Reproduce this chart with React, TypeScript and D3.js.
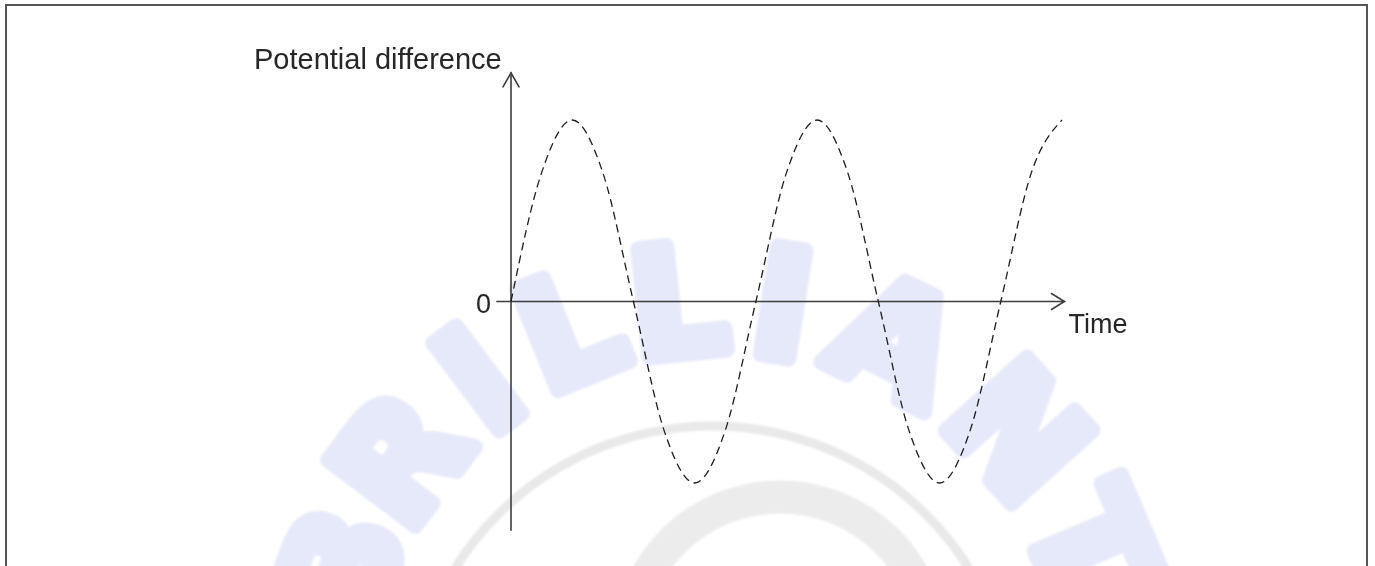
import React from "react";
import * as d3 from "d3";

// Sine-wave potential difference, sampled every eighth of a period.
// Time is measured in quarter periods.
const timeQuarters = [
  0, 0.5, 1, 1.5, 2, 2.5, 3, 3.5, 4, 4.5, 5, 5.5, 6, 6.5, 7, 7.5, 8, 8.5, 9,
];
const potential = [
  0, 0.71, 1, 0.71, 0, -0.71, -1, -0.71, 0, 0.71, 1, 0.71, 0, -0.71, -1, -0.71,
  0, 0.71, 1,
];

const yAxisTitle = "Potential difference";
const xAxisTitle = "Time";
const zeroLabel = "0";

// Background emblem: lettering on an arc plus two rings.
const emblemLetters = ["B", "R", "I", "L", "L", "I", "A", "N", "T"];
const emblemAngles = [-161, -143, -127, -112, -96, -81, -64, -42, -23];

const W = 1375;
const H = 566;
const FONT = "'Liberation Sans', Arial, Helvetica, sans-serif";

export default function App() {
  const x = d3.scaleLinear().domain([0, 9]).range([511, 1062]);
  const y = d3.scaleLinear().domain([-1, 1]).range([483, 120]);

  const pts = timeQuarters.map((t, i) => [t, potential[i]] as [number, number]);
  const line = d3
    .line<[number, number]>()
    .x((d) => x(d[0]))
    .y((d) => y(d[1]))
    .curve(d3.curveMonotoneX);

  const x0 = x(0);
  const y0 = y(0);
  const xStart = x(-0.23);
  const xTip = x(9.04);
  const yTop = y(1.26);
  const yBottom = y(-1.26);

  const axisColor = "#3d3d3d";
  const textColor = "#262626";

  // emblem geometry
  const ec = { x: 720, y: 700, r: 400 };

  return (
    <svg
      width={W}
      height={H}
      style={{ position: "absolute", left: 0, top: 0, display: "block", background: "#fff" }}
    >
      <defs>
        <filter id="soft" x="-10%" y="-10%" width="120%" height="120%">
          <feGaussianBlur stdDeviation="1.2" />
        </filter>
      </defs>

      {/* emblem */}
      <g filter="url(#soft)">
        <circle cx={712} cy={729} r={303} fill="none" stroke="#e9e9e9" strokeWidth={9} />
        <circle cx={780} cy={649} r={152} fill="none" stroke="#ececec" strokeWidth={33} />
        {emblemLetters.map((ch, i) => {
          const a = (emblemAngles[i] * Math.PI) / 180;
          const px = ec.x + ec.r * Math.cos(a);
          const py = ec.y + ec.r * Math.sin(a);
          return (
            <text
              key={i}
              transform={`translate(${px},${py}) rotate(${emblemAngles[i] + 90})`}
              textAnchor="middle"
              dominantBaseline="central"
              fontFamily="'DejaVu Sans', sans-serif"
              fontWeight="bold"
              fontSize={150}
              fill="#e6e9fa"
              stroke="#e6e9fa"
              strokeWidth={16}
              strokeLinejoin="round"
            >
              {ch}
            </text>
          );
        })}
      </g>

      {/* frame */}
      <rect x={6} y={5} width={1361} height={620} fill="none" stroke="#555" strokeWidth={2} />

      {/* axes */}
      <g stroke={axisColor} strokeWidth={1.6} fill="none" strokeLinecap="round">
        <line x1={x0} y1={yBottom} x2={x0} y2={yTop} />
        <polyline points={`${x0 - 8},${yTop + 14} ${x0},${yTop} ${x0 + 8},${yTop + 14}`} />
        <line x1={xStart} y1={y0} x2={xTip} y2={y0} />
        <polyline points={`${xTip - 13},${y0 - 8} ${xTip},${y0} ${xTip - 13},${y0 + 8}`} />
      </g>

      {/* waveform */}
      <path
        d={line(pts) ?? ""}
        fill="none"
        stroke="#1c1c1c"
        strokeWidth={1.3}
        strokeDasharray="8 5"
      />

      {/* labels */}
      <text x={254} y={69} fontFamily={FONT} fontSize={29} fill={textColor}>
        {yAxisTitle}
      </text>
      <text x={x0 - 20} y={y0 + 11} textAnchor="end" fontFamily={FONT} fontSize={27} fill={textColor}>
        {zeroLabel}
      </text>
      <text x={xTip + 4} y={333} fontFamily={FONT} fontSize={27} fill={textColor}>
        {xAxisTitle}
      </text>
    </svg>
  );
}
